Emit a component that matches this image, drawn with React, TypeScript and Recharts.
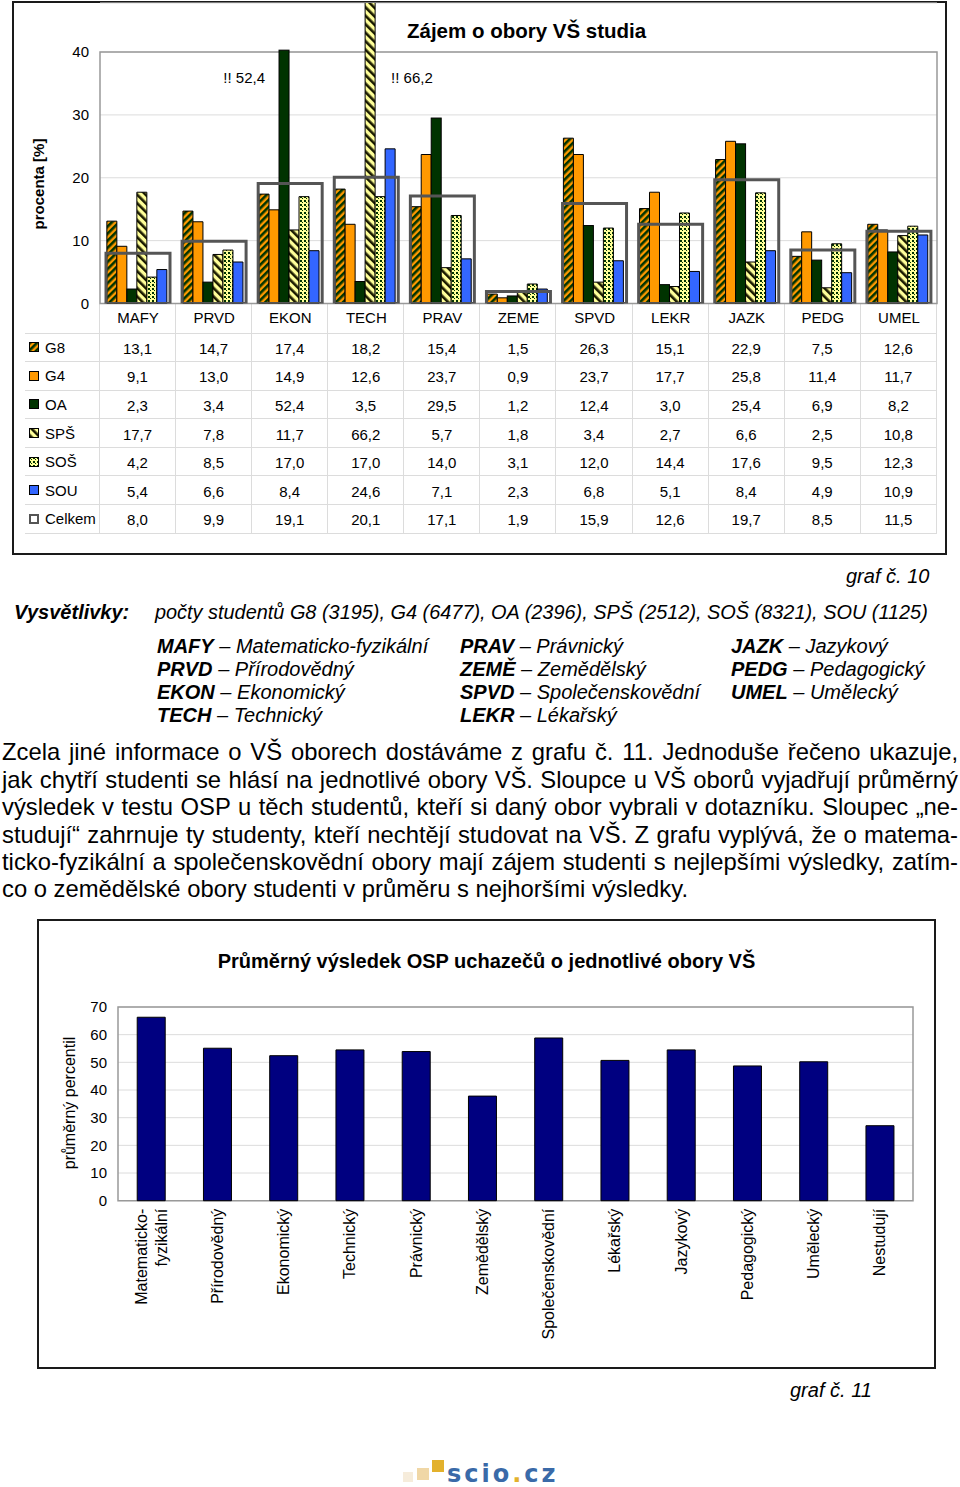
import React from 'react';
import { BarChart, Bar, XAxis, YAxis, CartesianGrid, ReferenceArea } from 'recharts';

const FONT = '"Liberation Sans", Arial, Helvetica, sans-serif';

// ---------- Graf č. 10 data ----------
const CATEGORIES = ['MAFY', 'PRVD', 'EKON', 'TECH', 'PRAV', 'ZEME', 'SPVD', 'LEKR', 'JAZK', 'PEDG', 'UMEL'];
const G8 = [13.1, 14.7, 17.4, 18.2, 15.4, 1.5, 26.3, 15.1, 22.9, 7.5, 12.6];
const G4 = [9.1, 13.0, 14.9, 12.6, 23.7, 0.9, 23.7, 17.7, 25.8, 11.4, 11.7];
const OA = [2.3, 3.4, 52.4, 3.5, 29.5, 1.2, 12.4, 3.0, 25.4, 6.9, 8.2];
const SPS = [17.7, 7.8, 11.7, 66.2, 5.7, 1.8, 3.4, 2.7, 6.6, 2.5, 10.8];
const SOS = [4.2, 8.5, 17.0, 17.0, 14.0, 3.1, 12.0, 14.4, 17.6, 9.5, 12.3];
const SOU = [5.4, 6.6, 8.4, 24.6, 7.1, 2.3, 6.8, 5.1, 8.4, 4.9, 10.9];
const CELKEM = [8.0, 9.9, 19.1, 20.1, 17.1, 1.9, 15.9, 12.6, 19.7, 8.5, 11.5];
const Y_TICKS_1 = [0, 10, 20, 30, 40];
const FRAME_MAX_1 = 40;
const Y_MAX_1 = 47.8;
const OVERFLOW_CAP = 40.3;
const ANNOTATION_LEVEL = 36;

const STUDENT_GROUPS = ['G8', 'G4', 'OA', 'SPŠ', 'SOŠ', 'SOU'];
const STUDENT_COUNTS = [3195, 6477, 2396, 2512, 8321, 1125];

const ABBR_KEYS = ['MAFY', 'PRVD', 'EKON', 'TECH', 'PRAV', 'ZEMĚ', 'SPVD', 'LEKR', 'JAZK', 'PEDG', 'UMEL'];
const ABBR_NAMES = ['Matematicko-fyzikální', 'Přírodovědný', 'Ekonomický', 'Technický', 'Právnický', 'Zemědělský', 'Společenskovědní', 'Lékařský', 'Jazykový', 'Pedagogický', 'Umělecký'];

const PARAGRAPH_LINES = [
  'Zcela jiné informace o VŠ oborech dostáváme z grafu č. 11. Jednoduše řečeno ukazuje,',
  'jak chytří studenti se hlásí na jednotlivé obory VŠ. Sloupce u VŠ oborů vyjadřují průměrný',
  'výsledek v testu OSP u těch studentů, kteří si daný obor vybrali v dotazníku. Sloupec „ne-',
  'studují“ zahrnuje ty studenty, kteří nechtějí studovat na VŠ. Z grafu vyplývá, že o matema-',
  'ticko-fyzikální a společenskovědní obory mají zájem studenti s nejlepšími výsledky, zatím-',
  'co o zemědělské obory studenti v průměru s nejhoršími výsledky.',
];

// ---------- Graf č. 11 data ----------
const OSP_CATEGORIES = ['Matematicko-\nfyzikální', 'Přírodovědný', 'Ekonomický', 'Technický', 'Právnický', 'Zemědělský', 'Společenskovědní', 'Lékařský', 'Jazykový', 'Pedagogický', 'Umělecký', 'Nestudují'];
const OSP_VALUES = [66.3, 55.1, 52.4, 54.5, 53.9, 37.8, 58.8, 50.7, 54.5, 48.7, 50.2, 27.1];
const Y_TICKS_2 = [0, 10, 20, 30, 40, 50, 60, 70];

const SERIES = [
  { key: 'g8', name: 'G8', values: G8, fill: 'url(#pG8)' },
  { key: 'g4', name: 'G4', values: G4, fill: '#FF9900' },
  { key: 'oa', name: 'OA', values: OA, fill: '#003300' },
  { key: 'sps', name: 'SPŠ', values: SPS, fill: 'url(#pSPS)' },
  { key: 'sos', name: 'SOŠ', values: SOS, fill: 'url(#pSOS)' },
  { key: 'sou', name: 'SOU', values: SOU, fill: '#3366FF' },
];

const data1 = CATEGORIES.map((cat, i) => ({
  cat,
  g8: G8[i], g4: G4[i], oa: OA[i], sps: SPS[i], sos: SOS[i], sou: SOU[i], celkem: CELKEM[i],
}));
const data2 = OSP_CATEGORIES.map((name, i) => ({ name, v: OSP_VALUES[i] }));

const fmt = (v: number) => v.toFixed(1).replace('.', ',');

const CappedBar = (p: any) => {
  const v = typeof p.value === 'number' ? p.value : Array.isArray(p.value) ? p.value[1] : p.payload?.oa;
  let { x, y, width, height } = p;
  if (v > OVERFLOW_CAP && height > 0) {
    const h = (height * OVERFLOW_CAP) / v;
    y = y + height - h;
    height = h;
  }
  return <rect x={x} y={y} width={width} height={height} fill={p.fill} stroke={p.stroke} strokeWidth={p.strokeWidth} />;
};

const overflowLabel = (side: 'left' | 'right') => (props: any) => {
  const vb = props.viewBox ?? props;
  const raw = Array.isArray(props.value) ? props.value[1] : props.value;
  const v = Number(raw);
  if (!(v > FRAME_MAX_1)) return null;
  const { x, y, width, height } = vb;
  const base = y + height;
  const ly = base - (height * ANNOTATION_LEVEL) / v;
  return (
    <text
      key={`ann-${props.index}`}
      x={side === 'left' ? x - 14 : x + width + 16}
      y={ly}
      textAnchor={side === 'left' ? 'end' : 'start'}
      dominantBaseline="central"
      fontSize={15}
      fontFamily={FONT}
      fill="#000"
    >
      {`!! ${fmt(v)}`}
    </text>
  );
};

const RotTick = (props: any) => {
  const { x, y, payload } = props;
  const lines = String(payload.value).split('\n');
  const lh = 20;
  return (
    <g transform={`translate(${x},${y})`}>
      <text transform="rotate(-90)" textAnchor="end" fontSize={16} fontFamily={FONT} fill="#000">
        {lines.map((l, i) => (
          <tspan key={i} x={0} y={(i - (lines.length - 1) / 2) * lh} dy="0.35em">{l}</tspan>
        ))}
      </text>
    </g>
  );
};

const Txt = ({ left, cy, size, children, style }: any) => (
  <div style={{ position: 'absolute', left, top: cy - (size * 1.15) / 2, fontSize: size, lineHeight: `${size * 1.15}px`, fontFamily: FONT, whiteSpace: 'nowrap', color: '#000', ...style }}>
    {children}
  </div>
);

const RotTxt = ({ cx, cy, size, children, bold }: any) => (
  <div style={{ position: 'absolute', left: cx, top: cy, transform: 'translate(-50%,-50%) rotate(-90deg)', fontSize: size, fontFamily: FONT, fontWeight: bold ? 'bold' : 'normal', whiteSpace: 'nowrap', color: '#000', lineHeight: 1 }}>
    {children}
  </div>
);

const Key = ({ fill }: { fill: string }) => (
  <svg width={10} height={10} style={{ display: 'block', marginRight: 6 }}>
    <rect x={0.5} y={0.5} width={9} height={9} fill={fill} stroke="#000" strokeWidth={1} />
  </svg>
);

export default function App() {
  const tableRows = [
    ...SERIES.map((s) => ({ name: s.name, values: s.values, key: <Key fill={s.fill} /> })),
    {
      name: 'Celkem',
      values: CELKEM,
      key: (
        <svg width={10} height={10} style={{ display: 'block', marginRight: 6 }}>
          <rect x={1} y={1} width={8} height={8} fill="#fff" stroke="#555" strokeWidth={2} />
        </svg>
      ),
    },
  ];
  const colW = (937 - 100) / CATEGORIES.length;
  const cellBorder = '1px solid #dcdcdc';
  const studentsText = 'počty studentů ' + STUDENT_GROUPS.map((g, i) => `${g} (${STUDENT_COUNTS[i]})`).join(', ');
  const abbrCols = [[0, 1, 2, 3], [4, 5, 6, 7], [8, 9, 10]];
  const abbrX = [157, 460, 731];

  return (
    <div style={{ position: 'absolute', left: 0, top: 0, width: 960, height: 1487, background: '#fff', fontFamily: FONT, overflow: 'hidden' }}>
      <svg width={0} height={0} style={{ position: 'absolute' }}>
        <defs>
          <pattern id="pG8" width="5" height="5" patternUnits="userSpaceOnUse" patternTransform="rotate(45)">
            <rect width="5" height="5" fill="#FF9900" />
            <rect width="2.6" height="5" fill="#003300" />
          </pattern>
          <pattern id="pSPS" width="6" height="6" patternUnits="userSpaceOnUse" patternTransform="rotate(-45)">
            <rect width="6" height="6" fill="#FFFF99" />
            <rect width="2.6" height="6" fill="#1a1a00" />
          </pattern>
          <pattern id="pSOS" width="4" height="4" patternUnits="userSpaceOnUse">
            <rect width="4" height="4" fill="#FFFF99" />
            <rect width="2" height="2" fill="#003300" />
            <rect x="2" y="2" width="1" height="1" fill="#003300" />
          </pattern>
        </defs>
      </svg>

      {/* ---------- Graf č. 10 ---------- */}
      <div style={{ position: 'absolute', left: 12, top: 1, width: 935, height: 554, border: '2px solid #1a1a1a', boxSizing: 'border-box' }} />

      <div
        style={{
          position: 'absolute', left: 25, top: 303.5, width: 912,
          display: 'grid', gridTemplateColumns: `75px repeat(${CATEGORIES.length}, ${colW}px)`,
          gridTemplateRows: `30px repeat(${tableRows.length}, 28.6px)`, fontSize: 15, fontFamily: FONT,
        }}
      >
        <div style={{ borderBottom: cellBorder, borderRight: cellBorder }} />
        {CATEGORIES.map((c) => (
          <div key={c} style={{ borderBottom: cellBorder, borderRight: cellBorder }} />
        ))}
        {tableRows.map((r) => (
          <React.Fragment key={r.name}>
            <div style={{ borderBottom: cellBorder, borderRight: cellBorder, display: 'flex', alignItems: 'center', paddingLeft: 4, boxSizing: 'border-box' }}>
              {r.key}
              <span>{r.name}</span>
            </div>
            {r.values.map((v, i) => (
              <div key={i} style={{ borderBottom: cellBorder, borderRight: cellBorder, display: 'flex', alignItems: 'center', justifyContent: 'center', paddingTop: 2, boxSizing: 'border-box' }}>
                {fmt(v)}
              </div>
            ))}
          </React.Fragment>
        ))}
      </div>

      <div style={{ position: 'absolute', left: 0, top: 0 }}>
        <BarChart width={960} height={560} data={data1} margin={{ top: 3, right: 23, bottom: 226.5, left: 60 }} barCategoryGap="9%" barGap={0}>
          <CartesianGrid vertical={false} stroke="#dcdcdc" />
          <XAxis dataKey="cat" interval={0} tickLine={false} axisLine={false} tickSize={0} tickMargin={9} height={30} tick={{ fontSize: 15, fill: '#000', fontFamily: FONT }} />
          <XAxis xAxisId="tot" dataKey="cat" hide />
          <YAxis width={40} domain={[0, Y_MAX_1]} ticks={Y_TICKS_1} allowDataOverflow axisLine={false} tickLine={false} tickSize={0} tickMargin={11} tick={{ fontSize: 15, fill: '#000', fontFamily: FONT }} />
          <YAxis yAxisId="tot" hide domain={[0, Y_MAX_1]} allowDataOverflow />
          <ReferenceArea y1={0} y2={FRAME_MAX_1} fill="none" fillOpacity={0} stroke="#999" strokeWidth={1.5} />
          {SERIES.map((s) => (
            <Bar
              key={s.key}
              dataKey={s.key}
              name={s.name}
              fill={s.fill}
              stroke="#000"
              strokeWidth={1}
              isAnimationActive={false}
              shape={s.key === 'oa' ? CappedBar : undefined}
              label={s.key === 'oa' ? overflowLabel('left') : s.key === 'sps' ? overflowLabel('right') : undefined}
            />
          ))}
          <Bar xAxisId="tot" yAxisId="tot" dataKey="celkem" name="Celkem" fill="none" stroke="#555" strokeWidth={3} barSize={64} isAnimationActive={false} />
        </BarChart>
      </div>

      <Txt left={407} cy={31} size={20.5} style={{ fontWeight: 'bold' }}>Zájem o obory VŠ studia</Txt>
      <RotTxt cx={38} cy={184} size={15} bold>procenta [%]</RotTxt>

      {/* ---------- Legend texts ---------- */}
      <Txt left={846} cy={576} size={20} style={{ fontStyle: 'italic' }}>graf č. 10</Txt>
      <Txt left={14} cy={612} size={20} style={{ fontStyle: 'italic', fontWeight: 'bold' }}>Vysvětlivky:</Txt>
      <Txt left={155} cy={612} size={19.9} style={{ fontStyle: 'italic' }}>{studentsText}</Txt>
      {abbrCols.map((col, ci) =>
        col.map((k, ri) => (
          <Txt key={`${ci}-${ri}`} left={abbrX[ci]} cy={646 + ri * 23} size={20} style={{ fontStyle: 'italic' }}>
            <b>{ABBR_KEYS[k]}</b> – {ABBR_NAMES[k]}
          </Txt>
        ))
      )}

      {PARAGRAPH_LINES.map((line, i) => (
        <div
          key={i}
          style={{
            position: 'absolute', left: 2, top: 752 - 13.7 + i * 27.4, width: 956,
            fontSize: 23.8, lineHeight: '27.4px', fontFamily: FONT, color: '#000',
            textAlign: i === PARAGRAPH_LINES.length - 1 ? 'left' : 'justify',
            textAlignLast: i === PARAGRAPH_LINES.length - 1 ? 'left' : 'justify',
            whiteSpace: 'nowrap',
          }}
        >
          {line}
        </div>
      ))}

      {/* ---------- Graf č. 11 ---------- */}
      <div style={{ position: 'absolute', left: 37, top: 919, width: 899, height: 450, border: '2px solid #1a1a1a', boxSizing: 'border-box' }} />
      <div style={{ position: 'absolute', left: 0, top: 919 }}>
        <BarChart width={960} height={450} data={data2} margin={{ top: 88, right: 47, bottom: 0, left: 78 }} barCategoryGap="29%">
          <CartesianGrid vertical={false} stroke="#dcdcdc" />
          <XAxis dataKey="name" interval={0} height={168.3} tickLine={false} axisLine={false} tickSize={0} tickMargin={8} tick={<RotTick />} />
          <YAxis width={40} domain={[0, 70]} ticks={Y_TICKS_2} tickLine={false} axisLine={false} tickSize={0} tickMargin={11} tick={{ fontSize: 15, fill: '#000', fontFamily: FONT }} />
          <ReferenceArea y1={0} y2={70} fill="none" fillOpacity={0} stroke="#999" strokeWidth={1.5} />
          <Bar dataKey="v" name="Průměrný percentil" fill="#000080" stroke="#000" strokeWidth={1} isAnimationActive={false} />
        </BarChart>
      </div>
      <div style={{ position: 'absolute', left: 37, width: 899, top: 961 - 12, textAlign: 'center', fontSize: 20, lineHeight: '24px', fontWeight: 'bold', fontFamily: FONT }}>
        Průměrný výsledek OSP uchazečů o jednotlivé obory VŠ
      </div>
      <RotTxt cx={70} cy={1103} size={16}>průměrný percentil</RotTxt>
      <Txt left={790} cy={1390} size={20} style={{ fontStyle: 'italic' }}>graf č. 11</Txt>

      {/* ---------- logo ---------- */}
      <div style={{ position: 'absolute', left: 403, top: 1472, width: 10, height: 10, background: '#f6ecdb' }} />
      <div style={{ position: 'absolute', left: 417, top: 1468, width: 12, height: 12, background: '#f0d7a6' }} />
      <div style={{ position: 'absolute', left: 432, top: 1460, width: 12, height: 12, background: '#e3b12c' }} />
      <div style={{ position: 'absolute', left: 447, top: 1464, height: 20, fontSize: 24, lineHeight: '20px', fontWeight: 'bold', fontFamily: '"DejaVu Sans", sans-serif', color: '#3a6aa8', letterSpacing: 3 }}>
        scio<span style={{ color: '#e3b12c' }}>.</span>cz
      </div>
    </div>
  );
}
